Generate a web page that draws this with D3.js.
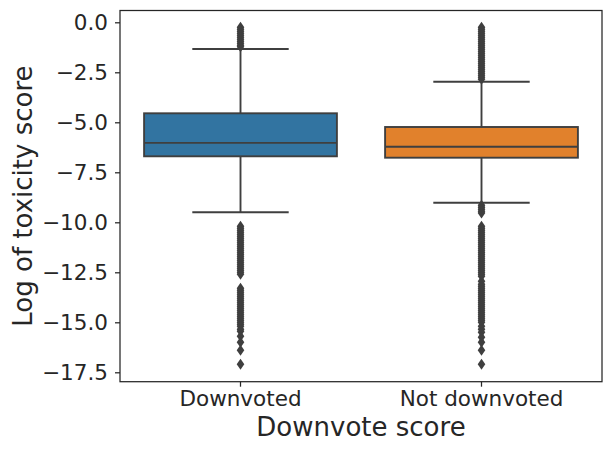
<!DOCTYPE html>
<html>
<head>
<meta charset="utf-8">
<script src="https://cdn.jsdelivr.net/npm/d3@7"></script>
<style>
  body { margin: 0; background: #fff; }
  svg text { font-family: "DejaVu Sans"; }
  .axis text { fill: #262626; font-size: 21.5px; }
  .axis line { stroke: #262626; stroke-width: 1.25; }
</style>
</head>
<body>
<svg width="612" height="452"></svg>
<script>
// categories and box stats
var categories = ["Downvoted", "Not downvoted"];
var boxColors = ["#3274a1", "#e1812c"];
var q1 = [-6.70, -6.77];
var median = [-6.03, -6.22];
var q3 = [-4.55, -5.235];
var whiskerLow = [-9.50, -9.02];
var whiskerHigh = [-1.335, -2.97];

// fliers (each diamond drawn), estimated along the columns
var fliersDownvoted = [
  -0.25, -0.35, -0.45, -0.55, -0.65, -0.75, -0.85, -0.95, -1.05, -1.15, -1.22,
  -10.2, -10.3, -10.4, -10.5, -10.6, -10.7, -10.8, -10.9, -11.0, -11.1, -11.2,
  -11.3, -11.4, -11.5, -11.6, -11.7, -11.8, -11.9, -12.0, -12.1, -12.2, -12.3,
  -12.4, -12.5, -12.6,
  -13.3, -13.4, -13.5, -13.6, -13.7, -13.8, -13.9, -14.0, -14.1, -14.2, -14.3,
  -14.4, -14.5, -14.6, -14.7, -14.8, -14.9, -15.0, -15.1, -15.2, -15.35, -15.45,
  -15.7, -16.0, -16.4, -17.1
];
var fliersNotDownvoted = [
  -0.25, -0.35, -0.45, -0.55, -0.65, -0.75, -0.85, -0.95, -1.05, -1.15, -1.25,
  -1.35, -1.45, -1.55, -1.65, -1.75, -1.85, -1.95, -2.05, -2.15, -2.25, -2.35,
  -2.45, -2.55, -2.65, -2.75, -2.85,
  -9.15, -9.25, -9.35, -9.45, -9.53,
  -10.2, -10.3, -10.4, -10.5, -10.6, -10.7, -10.8, -10.9, -11.0, -11.1, -11.2,
  -11.3, -11.4, -11.5, -11.6, -11.7, -11.8, -11.9, -12.0, -12.1, -12.2, -12.3,
  -12.4, -12.5, -12.6, -12.7,
  -12.95, -13.1, -13.2, -13.3, -13.4, -13.5, -13.6, -13.7, -13.8, -13.9, -14.0,
  -14.1, -14.2, -14.3, -14.4, -14.5, -14.6, -14.7, -14.8, -14.9, -15.0,
  -15.2, -15.35, -15.5, -15.75, -16.0, -16.4, -17.1
];
var fliers = [fliersDownvoted, fliersNotDownvoted];

var yTicks = [0, -2.5, -5, -7.5, -10, -12.5, -15, -17.5];

var plot = { left: 120, right: 602, top: 10.5, bottom: 381.7 };
var lineColor = "#3f3f3f";

var svg = d3.select("svg");

var xScale = d3.scaleBand()
               .domain(categories)
               .range([plot.left, plot.right])
               .padding(0);
var yScale = d3.scaleLinear()
               .domain([-17.97, 0.59])
               .range([plot.bottom, plot.top]);

var boxW = xScale.bandwidth() * 0.8;
var capW = boxW / 2;

var rows = categories.map(function(c, i){
  return { cat: c, i: i, cx: xScale(c) + xScale.bandwidth() / 2 };
});

var g = svg.append("g");

// whiskers
g.selectAll(".whisk-lo").data(rows).enter().append("line")
  .attr("x1", function(d){ return d.cx; })
  .attr("x2", function(d){ return d.cx; })
  .attr("y1", function(d){ return yScale(q1[d.i]); })
  .attr("y2", function(d){ return yScale(whiskerLow[d.i]); })
  .attr("stroke", lineColor).attr("stroke-width", 1.9);
g.selectAll(".whisk-hi").data(rows).enter().append("line")
  .attr("x1", function(d){ return d.cx; })
  .attr("x2", function(d){ return d.cx; })
  .attr("y1", function(d){ return yScale(q3[d.i]); })
  .attr("y2", function(d){ return yScale(whiskerHigh[d.i]); })
  .attr("stroke", lineColor).attr("stroke-width", 1.9);

// boxes
g.selectAll("rect.box").data(rows).enter().append("rect")
  .attr("class", "box")
  .attr("x", function(d){ return d.cx - boxW / 2; })
  .attr("y", function(d){ return yScale(q3[d.i]); })
  .attr("width", boxW)
  .attr("height", function(d){ return yScale(q1[d.i]) - yScale(q3[d.i]); })
  .attr("fill", function(d){ return boxColors[d.i]; })
  .attr("stroke", lineColor).attr("stroke-width", 1.9);

// caps
[whiskerLow, whiskerHigh].forEach(function(arr){
  g.selectAll(null).data(rows).enter().append("line")
    .attr("x1", function(d){ return d.cx - capW / 2; })
    .attr("x2", function(d){ return d.cx + capW / 2; })
    .attr("y1", function(d){ return yScale(arr[d.i]); })
    .attr("y2", function(d){ return yScale(arr[d.i]); })
    .attr("stroke", lineColor).attr("stroke-width", 1.9);
});

// medians
g.selectAll(".med").data(rows).enter().append("line")
  .attr("x1", function(d){ return d.cx - boxW / 2; })
  .attr("x2", function(d){ return d.cx + boxW / 2; })
  .attr("y1", function(d){ return yScale(median[d.i]); })
  .attr("y2", function(d){ return yScale(median[d.i]); })
  .attr("stroke", lineColor).attr("stroke-width", 1.9);

// fliers as thin diamonds
var diamond = "M0,-5.5L3.8,0L0,5.5L-3.8,0Z";
rows.forEach(function(r){
  g.selectAll(null).data(fliers[r.i]).enter().append("path")
    .attr("d", diamond)
    .attr("transform", function(v){ return "translate(" + r.cx + "," + yScale(v) + ")"; })
    .attr("fill", lineColor);
});

// frame
svg.append("rect")
   .attr("x", plot.left).attr("y", plot.top)
   .attr("width", plot.right - plot.left)
   .attr("height", plot.bottom - plot.top)
   .attr("fill", "none")
   .attr("stroke", "#262626").attr("stroke-width", 1.25);

var yAxis = d3.axisLeft(yScale)
              .tickValues(yTicks)
              .tickFormat(d3.format(".1f"))
              .tickSize(5)
              .tickPadding(7);
var yg = svg.append("g").attr("class", "axis")
            .attr("transform", "translate(" + plot.left + ",0)")
            .call(yAxis);
yg.select(".domain").remove();

var xAxis = d3.axisBottom(xScale)
              .tickSize(5)
              .tickPadding(4);
var xg = svg.append("g").attr("class", "axis")
            .attr("transform", "translate(0," + plot.bottom + ")")
            .call(xAxis);
xg.select(".domain").remove();

svg.append("text")
   .attr("x", (plot.left + plot.right) / 2)
   .attr("y", 436)
   .attr("text-anchor", "middle")
   .attr("fill", "#262626")
   .style("font-size", "26px")
   .text("Downvote score");

svg.append("text")
   .attr("transform", "translate(32," + (plot.top + plot.bottom) / 2 + ") rotate(-90)")
   .attr("text-anchor", "middle")
   .attr("fill", "#262626")
   .style("font-size", "26px")
   .text("Log of toxicity score");
</script>
</body>
</html>
